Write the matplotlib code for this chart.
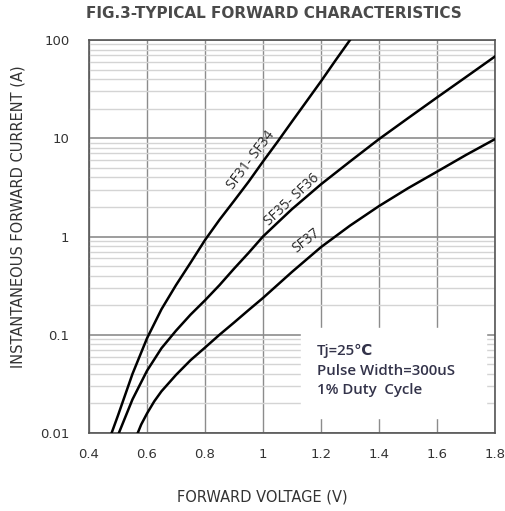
import numpy as np
import matplotlib.pyplot as plt
from matplotlib.ticker import FixedLocator, NullFormatter

# Curves (V, A)
v_sf31 = [0.478, 0.50, 0.55, 0.60, 0.65, 0.70, 0.75, 0.80, 0.85, 0.90, 0.95,
          1.00, 1.05, 1.10, 1.15, 1.20, 1.25, 1.30]
i_sf31 = [0.01, 0.0151, 0.040, 0.092, 0.182, 0.32, 0.54, 0.92, 1.48, 2.3, 3.6,
          5.8, 9.2, 14.8, 23.7, 38, 62, 100]

v_sf35 = [0.503, 0.55, 0.60, 0.65, 0.70, 0.75, 0.80, 0.85, 0.90, 0.95, 1.00,
          1.05, 1.10, 1.15, 1.20, 1.30, 1.40, 1.50, 1.60, 1.70, 1.80]
i_sf35 = [0.01, 0.022, 0.043, 0.073, 0.11, 0.16, 0.224, 0.32, 0.47, 0.68, 1.0,
          1.38, 1.9, 2.54, 3.4, 5.8, 9.8, 16, 26, 42, 68]

v_sf37 = [0.568, 0.58, 0.60, 0.625, 0.65, 0.70, 0.75, 0.80, 0.85, 0.90, 0.95, 1.00, 1.10,
          1.20, 1.30, 1.40, 1.50, 1.60, 1.70, 1.80]
i_sf37 = [0.01, 0.0122, 0.0158, 0.021, 0.0266, 0.039, 0.055, 0.074, 0.10, 0.133, 0.178, 0.237, 0.436,
          0.78, 1.29, 2.04, 3.1, 4.57, 6.76, 9.8]

x_ticks = [0.4, 0.6, 0.8, 1.0, 1.2, 1.4, 1.6, 1.8]
x_labels = ['0.4', '0.6', '0.8', '1', '1.2', '1.4', '1.6', '1.8']
y_ticks = [0.01, 0.1, 1, 10, 100]
y_labels = ['0.01', '0.1', '1', '10', '100']

plt.rcParams['font.family'] = ['DejaVu Sans']

fig = plt.figure(figsize=(5.05, 5.11), dpi=100)
ax = fig.add_axes([89 / 505, 1 - 433 / 511, 406 / 505, 393 / 511])
ax.set_yscale('log')
ax.set_xlim(0.4, 1.8)
ax.set_ylim(0.01, 100)

# grid
minor = [m * 10.0 ** e for e in range(-2, 2) for m in range(2, 10)]
ax.yaxis.set_minor_locator(FixedLocator(minor))
ax.yaxis.set_minor_formatter(NullFormatter())
ax.set_xticks(x_ticks)
ax.set_xticklabels(x_labels)
ax.set_yticks(y_ticks)
ax.set_yticklabels(y_labels)
ax.grid(True, which='minor', axis='y', color='#d4d4d4', lw=1.0)
ax.grid(True, which='major', axis='y', color='#8c8c8c', lw=1.2)
ax.grid(True, which='major', axis='x', color='#8c8c8c', lw=1.0)
ax.tick_params(axis='x', which='both', length=0, labelsize=9.5, pad=11, labelcolor='#333333')
ax.tick_params(axis='y', which='both', length=0, labelsize=9.5, pad=14, labelcolor='#333333')
for s in ax.spines.values():
    s.set_color('#555555')
    s.set_linewidth(1.2)

for v, i in [(v_sf31, i_sf31), (v_sf35, i_sf35), (v_sf37, i_sf37)]:
    ax.plot(v, i, color='black', lw=1.8, zorder=3, solid_joinstyle='round')

# curve labels
lab = dict(fontsize=10, ha='center', va='center', family=['Open Sans', 'DejaVu Sans'],
           color='#2a2a2a', zorder=4)
ax.text(0.958, 6.0, 'SF31- SF34', rotation=53, **lab)
ax.text(1.10, 2.35, 'SF35- SF36', rotation=43, **lab)
ax.text(1.148, 0.9, 'SF37', rotation=38, **lab)

# conditions box (covers grid)
ax.axvspan(1.13, 1.77, ymin=(433 - 418) / 393, ymax=(433 - 328) / 393,
           color='white', zorder=2.5)
cond = 'Tj=25\u2103\nPulse Width=300uS\n1% Duty  Cycle'
ax.text(1.186, 0.043, cond, fontsize=10.8, linespacing=1.5, va='center', ha='left',
        family=['Open Sans', 'DejaVu Sans'], fontweight='semibold',
        color='#33334a', zorder=4)

fig.text(274 / 505, 1 - 14 / 511, 'FIG.3-TYPICAL FORWARD CHARACTERISTICS',
         ha='center', va='center', fontsize=11, fontweight='bold', color='#4a4a4a')
fig.text(262 / 505, 1 - 497 / 511, 'FORWARD VOLTAGE (V)', ha='center', va='center',
         fontsize=10.5, color='#333333')
fig.text(18 / 505, 1 - 217 / 511, 'INSTANTANEOUS FORWARD CURRENT (A)', ha='center',
         va='center', rotation=90, fontsize=10.5, color='#333333')

fig.savefig('out.png', dpi=100)
